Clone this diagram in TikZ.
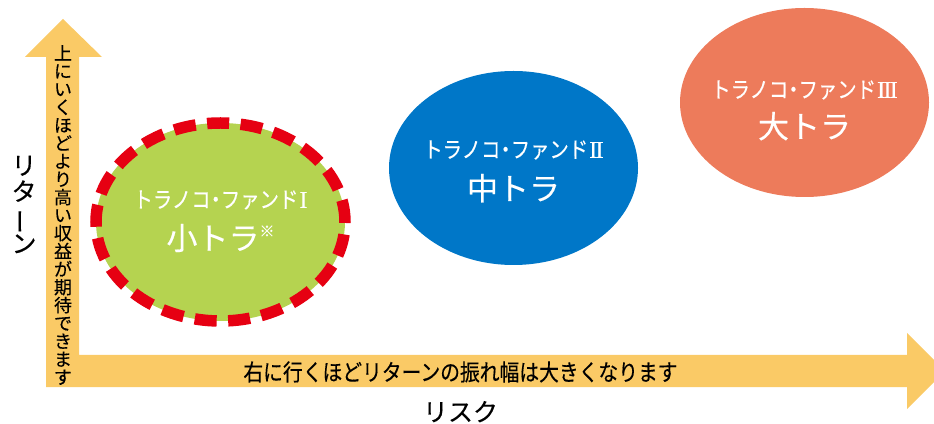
\documentclass[tikz,border=0pt]{standalone}
\usepackage{graphicx}
\usepackage{fontspec}
\setmainfont{Noto Sans CJK JP}
\newfontfamily\jpfont[FakeBold=0.3]{Noto Sans CJK JP}
\newfontfamily\jpnarrow[FakeStretch=0.86,FakeBold=0.3]{Noto Sans CJK JP}
\newfontfamily\numfont[FakeBold=0.5]{Liberation Serif}
\usetikzlibrary{positioning,shapes.geometric}
\definecolor{axisyellow}{RGB}{250,202,102}
\definecolor{smallgreen}{RGB}{181,211,80}
\definecolor{dashred}{RGB}{230,0,18}
\definecolor{midblue}{RGB}{0,119,200}
\definecolor{bigorange}{RGB}{237,123,91}
\lineskiplimit=-20pt
\newcommand{\fundtitle}[1]{トラノコ\kern-.2em・\kern-.2em ファンド\kern.05em{\numfont\fontsize{24}{24}\selectfont #1}}
\newcommand{\romtwo}{I\kern-.07em I}
\newcommand{\romthree}{I\kern-.07em I\kern-.07em I}

\begin{document}
\begin{tikzpicture}[x=1pt,y=1pt,
	fund/.style={ellipse,inner sep=0pt,minimum width=249pt},
	fundname/.style={text=white,inner sep=0pt,font=\jpnarrow\fontsize{22.5}{22.5}\selectfont},
	tora/.style={text=white,inner sep=0pt,font=\jpfont\fontsize{31}{31}\selectfont}]
		\clip (0,0) rectangle (934,423);
		
		% axes
		\fill[axisyellow] (46,36) -- (46,366) -- (25,366) -- (63,404) -- (102,366) -- (79,366) -- (79,68) -- (907,68) -- (907,90) -- (945,52) -- (907,14) -- (907,36) -- cycle;
		
		\node[inner sep=0pt,align=center,font=\jpfont\fontsize{18}{18}\selectfont] (uptext) at (63,208) {上\\に\\い\\く\\ほ\\ど\\よ\\り\\高\\い\\収\\益\\が\\期\\待\\で\\き\\ま\\す};
		\node[inner sep=0pt,align=center,font=\jpfont\fontsize{25}{26}\selectfont] (return) at (24,218.5) {リ\\タ\\\rotatebox[origin=c]{90}{ー}\\ン};
		
		\node[inner sep=0pt,font=\jpnarrow\fontsize{23}{23}\selectfont] (righttext) at (460.5,51) {右に行くほどリターンの振れ幅は大きくなります};
		\node[inner sep=0pt,below=18pt of righttext,font=\jpfont\fontsize{25}{25}\selectfont] (risk) {リスク};
		
		% funds
		\node[fund,fill=smallgreen,draw=dashred,line width=11.5pt,dash pattern=on 22pt off 11.5pt,minimum height=198pt] (small) at (220.5,201) {};
		\node[fund,fill=midblue,minimum height=194pt] (mid) at (513.5,255) {};
		\node[fund,fill=bigorange,minimum height=189pt] (big) at (804.5,320.5) {};
		
		\node[fundname] (smallname) at ([yshift=22pt]small.center) {\fundtitle{I}};
		\node[tora,below=14pt of smallname] (smalltora) {小トラ\raisebox{13pt}{\fontsize{15}{15}\selectfont ※}};
		
		\node[fundname] (midname) at ([yshift=18pt]mid.center) {\fundtitle{\romtwo}};
		\node[tora,below=14pt of midname] (midtora) {中トラ};
		
		\node[fundname] (bigname) at ([yshift=12.5pt]big.center) {\fundtitle{\romthree}};
		\node[tora,below=12pt of bigname] (bigtora) {大トラ};
	\end{tikzpicture}
\end{document}
